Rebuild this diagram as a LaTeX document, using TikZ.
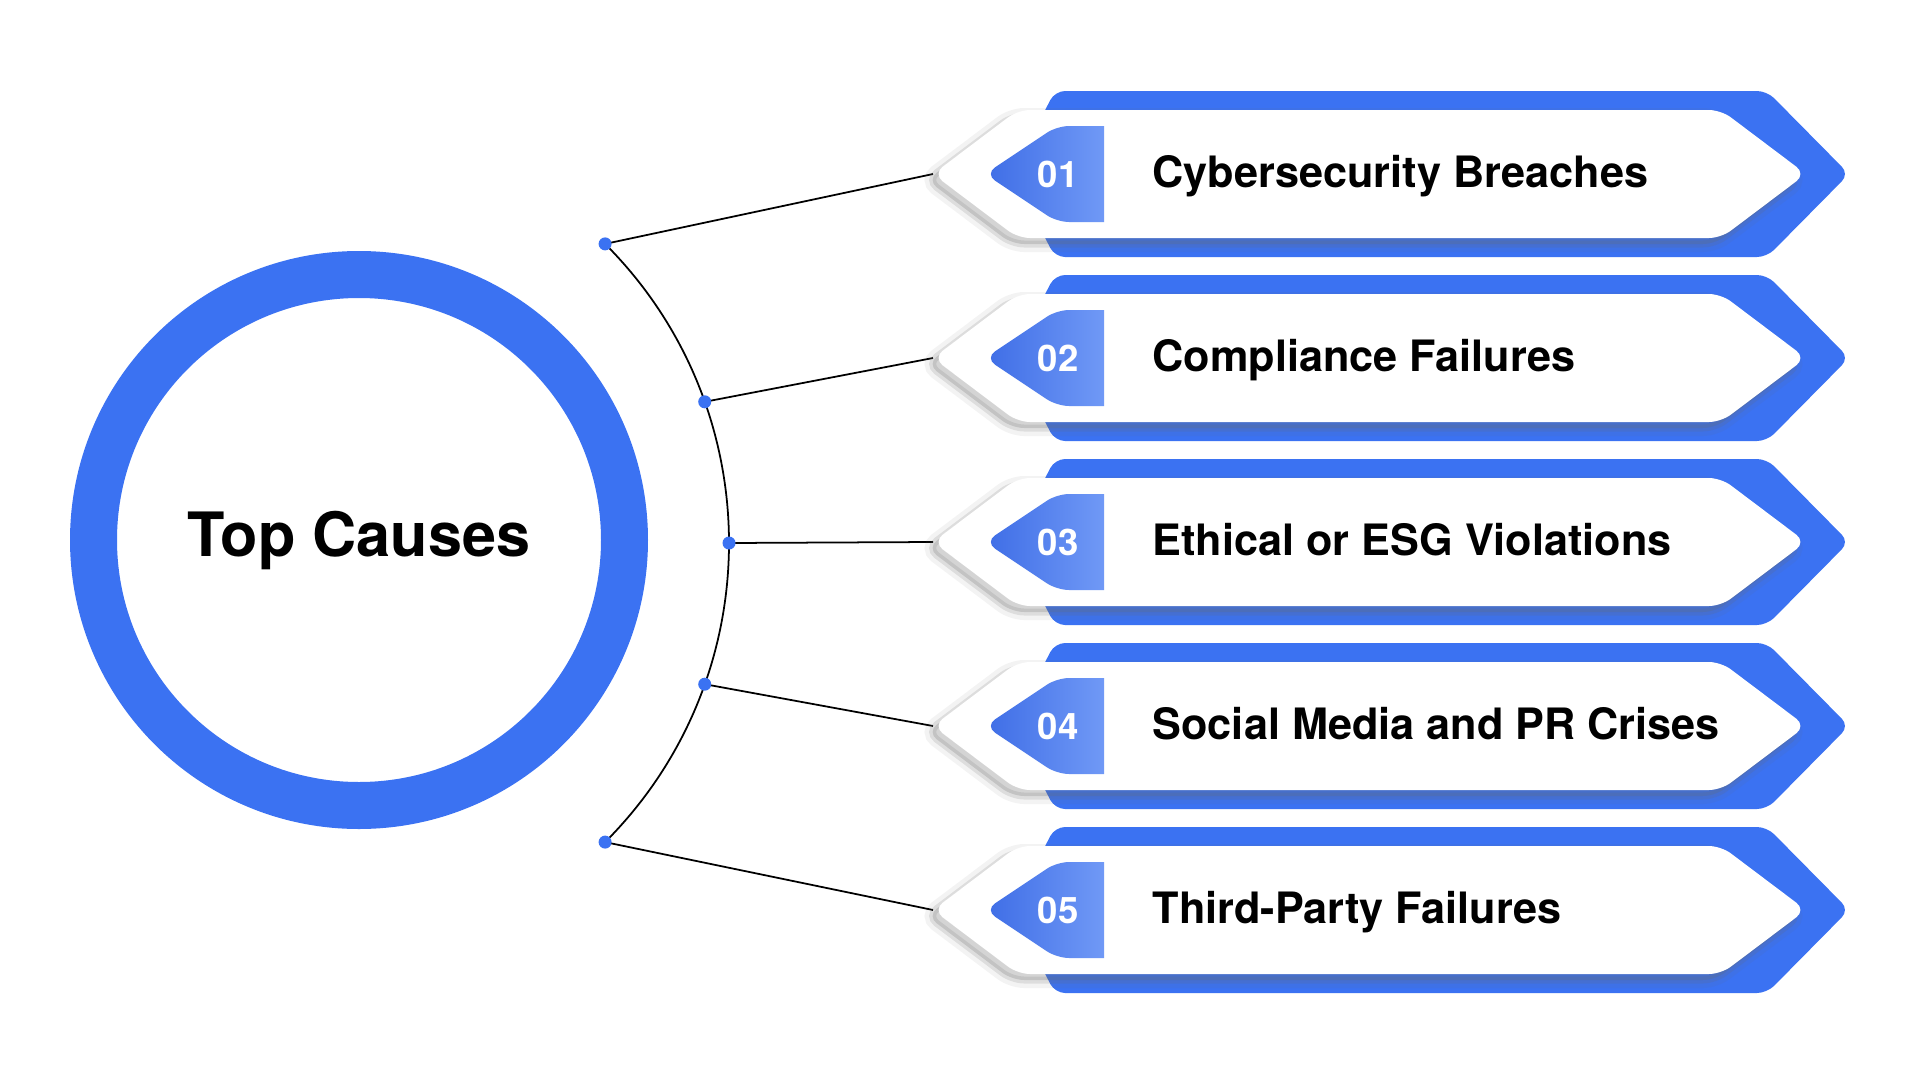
\documentclass[tikz,border=0pt]{standalone}
\usepackage{fontspec}
\setmainfont{TeX Gyre Heros}
\usetikzlibrary{calc}
\definecolor{causeblue}{HTML}{3B72F2}
\definecolor{tabdark}{HTML}{3E6DE6}
\definecolor{tablight}{HTML}{7099F6}
\definecolor{shadegray}{HTML}{6A6A6A}
\pgfdeclarelayer{bg}
\pgfsetlayers{bg,main}
\tikzset{
  titletext/.style={font=\fontsize{17.4}{20}\selectfont\bfseries, inner sep=0pt, anchor=base},
  causetext/.style={font=\fontsize{12.3}{15}\selectfont\bfseries, inner sep=0pt, anchor=base west},
  numtext/.style={font=\fontsize{10.4}{12}\selectfont\bfseries, text=white, inner sep=0pt, anchor=base},
  dotnode/.style={circle, fill=causeblue, inner sep=0pt, minimum size=1.3mm},
  linkline/.style={line width=0.5pt, black},
}
% #1 name, #2 centre y, #3 number, #4 label
\newcommand{\causebanner}[4]{
  \fill[causeblue, rounded corners=1mm] (1012,#2) -- (1055,#2+83) -- (1767,#2+83) -- (1849,#2) -- (1767,#2-83) -- (1055,#2-83) -- cycle;
  \draw[shadegray, opacity=0.08, line width=1.6mm, fill, rounded corners=1.2mm, xshift=-0.6mm, yshift=-0.6mm] (933,#2) -- (1018,#2+64) -- (1721,#2+64) -- (1806,#2) -- (1721,#2-64) -- (1018,#2-64) -- cycle;
  \draw[shadegray, opacity=0.16, line width=0.7mm, fill, rounded corners=1.2mm, xshift=-0.6mm, yshift=-0.6mm] (933,#2) -- (1018,#2+64) -- (1721,#2+64) -- (1806,#2) -- (1721,#2-64) -- (1018,#2-64) -- cycle;
  \fill[white, rounded corners=1.2mm] (933,#2) -- (1018,#2+64) -- (1721,#2+64) -- (1806,#2) -- (1721,#2-64) -- (1018,#2-64) -- cycle;
  \shade[left color=tabdark, right color=tablight] (1104,#2+48) -- (1104,#2-48) [rounded corners=1.2mm] -- (1057,#2-48) -- (985,#2) -- (1057,#2+48) [sharp corners] -- cycle;
  \coordinate (#1tip) at (933,#2);
  \node[numtext] (#1num) at (1058,#2-13) {#3};
  \node[causetext] (#1lbl) at (1152,#2-13) {#4};
}

\begin{document}
\begin{tikzpicture}[x=0.1mm, y=0.1mm]
  \useasboundingbox (0,0) rectangle (1920,1080);

  % centre ring
  \node[circle, draw=causeblue, line width=4.7mm, inner sep=0pt, minimum size=53.1mm] (hub) at (359,540) {};
  \node[titletext] (title) at (359,524) {Top Causes};

  % banners
  \causebanner{b1}{906}{01}{Cybersecurity Breaches}
  \causebanner{b2}{722}{02}{Compliance Failures}
  \causebanner{b3}{538}{03}{Ethical or ESG Violations}
  \causebanner{b4}{354}{04}{Social Media and PR Crises}
  \causebanner{b5}{170}{05}{Third-Party Failures}

  % arc with dots
  \coordinate (arcc) at (306,537);
  \node[dotnode] (dot1) at ($(arcc)+(45:423)$) {};
  \node[dotnode] (dot2) at ($(arcc)+(19.5:423)$) {};
  \node[dotnode] (dot3) at ($(arcc)+(0:423)$) {};
  \node[dotnode] (dot4) at ($(arcc)+(-19.5:423)$) {};
  \node[dotnode] (dot5) at ($(arcc)+(-45:423)$) {};
  \begin{pgfonlayer}{bg}
    \draw[linkline] (dot1.center) arc[start angle=45, end angle=-45, radius=423];
    \draw[linkline] (dot1.center) -- (b1tip);
    \draw[linkline] (dot2.center) -- (b2tip);
    \draw[linkline] (dot3.center) -- (b3tip);
    \draw[linkline] (dot4.center) -- (b4tip);
    \draw[linkline] (dot5.center) -- (b5tip);
  \end{pgfonlayer}
\end{tikzpicture}
\end{document}
